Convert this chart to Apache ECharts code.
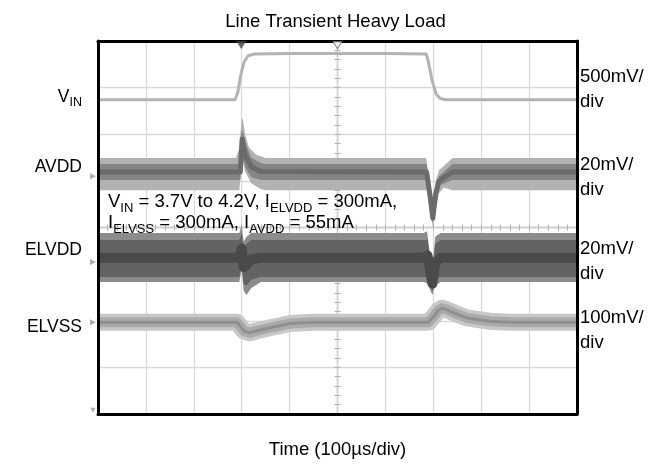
<!DOCTYPE html>
<html><head><meta charset="utf-8">
<script src="https://cdn.jsdelivr.net/npm/echarts@6/dist/echarts.min.js"></script>
<style>html,body{margin:0;padding:0;background:#fff}#c{width:671px;height:464px}</style>
</head><body><div id="c"></div>
<script>
// x: time in µs relative to screen centre (100 µs/div); y: screen divisions relative to centre
const vinTrace = [[-500,2.74],[-214,2.74],[-208,2.9],[-202,3.27],[-195,3.55],[-187,3.68],[-174,3.72],[-100,3.73],[0,3.73],[100,3.73],[185,3.72],[189,3.59],[197,3.17],[206,2.86],[214,2.77],[226,2.74],[300,2.74],[500,2.74]];

const avddOuterHi = [[-500,1.49],[-212,1.49],[-205,1.7],[-200,2.35],[-197,2.3],[-193,2.0],[-185,1.72],[-170,1.56],[-150,1.49],[185,1.49],[189,1.2],[193,0.95],[199,0.55],[205,1.0],[212,1.23],[240,1.49],[500,1.49]];
const avddOuterLo = [[-500,0.8],[-205,0.8],[-199,1.5],[-193,1.2],[-180,0.95],[-160,0.82],[-150,0.8],[186,0.8],[193,0.44],[199,-0.01],[205,0.44],[212,0.74],[222,0.85],[240,0.8],[500,0.8]];
const avddCoreHi = [[-500,1.36],[-204,1.36],[-200,2.1],[-196,2.0],[-192,1.8],[-180,1.5],[-160,1.38],[-150,1.36],[186,1.36],[193,0.85],[199,0.3],[205,0.85],[212,1.1],[240,1.36],[500,1.36]];
const avddCoreLo = [[-500,1.02],[-203,1.02],[-199,1.6],[-193,1.3],[-180,1.08],[-160,1.02],[186,1.02],[193,0.55],[199,0.1],[205,0.6],[212,0.9],[240,1.02],[500,1.02]];
const avddMid = [[-500,1.19],[-203,1.19],[-199,1.9],[-193,1.55],[-180,1.3],[-160,1.2],[186,1.19],[193,0.7],[199,0.2],[205,0.72],[212,1.0],[240,1.19],[500,1.19]];

const elvddOuterHi = [[-500,-0.12],[-205,-0.12],[-200,0.05],[-196,-0.3],[-190,-0.2],[-180,-0.12],[180,-0.12],[187,-0.08],[192,-0.5],[198,-0.9],[204,-0.2],[215,-0.12],[500,-0.12]];
const elvddOuterLo = [[-500,-1.17],[-205,-1.17],[-200,-0.9],[-196,-1.35],[-190,-1.45],[-180,-1.3],[-160,-1.17],[180,-1.17],[188,-1.2],[198,-1.45],[204,-1.25],[215,-1.17],[500,-1.17]];
const elvddCoreHi = [[-500,-0.27],[-205,-0.27],[-200,-0.12],[-196,-0.45],[-190,-0.35],[-180,-0.27],[185,-0.27],[188,-0.25],[193,-0.6],[198,-1.0],[204,-0.35],[215,-0.27],[500,-0.27]];
const elvddCoreLo = [[-500,-1.06],[-205,-1.06],[-200,-0.8],[-196,-1.2],[-190,-1.25],[-180,-1.12],[-160,-1.06],[185,-1.06],[190,-1.0],[198,-1.35],[204,-1.12],[215,-1.06],[500,-1.06]];
const elvddMid = [[-500,-0.65],[-205,-0.65],[-200,-0.45],[-196,-0.85],[-190,-0.8],[-180,-0.68],[-160,-0.65],[185,-0.65],[188,-0.6],[198,-1.2],[204,-0.75],[215,-0.65],[500,-0.65]];

const elvssTrace = [[-500,-2.03],[-210,-2.03],[-203,-2.12],[-195,-2.22],[-183,-2.26],[-170,-2.22],[-141,-2.15],[-99,-2.06],[-50,-2.03],[190,-2.03],[200,-1.92],[210,-1.78],[218,-1.73],[230,-1.77],[245,-1.84],[270,-1.94],[318,-2.01],[360,-2.03],[500,-2.03]];

const triggerMarks = [[-201, 4]];
const centerMarks = [[0, 4]];
const groundMarks = [[-500, 1.1], [-500, -0.74], [-500, -2.03]];
const bottomMark = [[-500, -3.92]];

const leftLabels = [
  {text: '{m|V}{s|IN}', y: 96},
  {text: '{m|AVDD}', y: 166},
  {text: '{m|ELVDD}', y: 249},
  {text: '{m|ELVSS}', y: 326}
];
const rightLabels = [
  {text: '500mV/\ndiv', y: 89},
  {text: '20mV/\ndiv', y: 177},
  {text: '20mV/\ndiv', y: 261},
  {text: '100mV/\ndiv', y: 330}
];
const noteLine1 = '{m|V}{s|IN}{m| = 3.7V to 4.2V, I}{s|ELVDD}{m| = 300mA,}';
const noteLine2 = '{m|I}{s|ELVSS}{m| = 300mA, I}{s|AVDD}{m| = 55mA}';

const FONT = '"Liberation Sans", Arial, Helvetica, sans-serif';
const rich = {
  m: {fontSize: 17.5, fontFamily: FONT, color: '#000', lineHeight: 21, verticalAlign: 'bottom'},
  s: {fontSize: 12.5, fontFamily: FONT, color: '#000', lineHeight: 14, verticalAlign: 'bottom', padding: [0,0,-3,0]}
};
const richNote = {
  m: {fontSize: 18.5, fontFamily: FONT, color: '#000', lineHeight: 21, verticalAlign: 'bottom'},
  s: {fontSize: 13, fontFamily: FONT, color: '#000', lineHeight: 14, verticalAlign: 'bottom', padding: [0,0,-3,0]}
};

function band(hi, lo, color, z) {
  return {
    type: 'custom', z: z, clip: true, silent: true, animation: false, data: [[0, 0]],
    renderItem: function (params, api) {
      const pts = hi.map(p => api.coord(p)).concat(lo.slice().reverse().map(p => api.coord(p)));
      return {type: 'polygon', shape: {points: pts}, style: {fill: color}};
    }
  };
}
function trace(data, color, width, z) {
  return {type: 'line', data: data, symbol: 'none', z: z, silent: true, animation: false, clip: true,
    lineStyle: {color: color, width: width, cap: 'butt', join: 'round'}};
}

const gridLine = {show: true, lineStyle: {color: '#dadada', width: 1.3}};
const frameLine = {show: true, onZero: false, lineStyle: {color: '#000', width: 3}};
const centerLine = {show: true, onZero: true, lineStyle: {color: '#d2d2d2', width: 1.3}};
const centerTick = {show: true, length: 3, lineStyle: {color: '#b0b0b0', width: 1}};
const centerMinor = {show: true, splitNumber: 5, length: 3, lineStyle: {color: '#b0b0b0', width: 1}};

function xAx(pos, frame) {
  const a = {type: 'value', min: -500, max: 500, interval: 100, position: pos,
    axisLabel: {show: false}, splitLine: {show: false}};
  if (frame) {
    Object.assign(a, {z: 10, axisLine: frameLine, axisTick: {show: false}});
  } else {
    Object.assign(a, {z: 1, axisLine: centerLine, axisTick: centerTick, minorTick: centerMinor});
  }
  return a;
}
function yAx(pos, frame) {
  const a = {type: 'value', min: -4, max: 4, interval: 1, position: pos,
    axisLabel: {show: false}, splitLine: {show: false}};
  if (frame) {
    Object.assign(a, {z: 10, axisLine: frameLine, axisTick: {show: false}});
  } else {
    Object.assign(a, {z: 1, axisLine: centerLine, axisTick: centerTick, minorTick: centerMinor});
  }
  return a;
}

const xAxes = [xAx('bottom', true), xAx('top', true), xAx('bottom', false), xAx('top', false)];
xAxes[0].name = 'Time (100µs/div)';
xAxes[0].nameLocation = 'middle';
xAxes[0].nameGap = 26;
xAxes[0].nameTextStyle = {fontSize: 18.5, fontFamily: FONT, color: '#000'};
xAxes[2].splitLine = gridLine;
const yAxes = [yAx('left', true), yAx('right', true), yAx('left', false), yAx('right', false)];
yAxes[2].splitLine = gridLine;

const graphics = [];
leftLabels.forEach(l => graphics.push({type: 'text', x: 82, y: l.y, silent: true,
  style: {text: l.text, rich: rich, align: 'right', verticalAlign: 'middle'}}));
rightLabels.forEach(l => graphics.push({type: 'text', x: 580, y: l.y, silent: true,
  style: {text: l.text, font: '18.5px ' + FONT, fill: '#000', lineHeight: 25, align: 'left', verticalAlign: 'middle'}}));
graphics.push({type: 'text', x: 108, y: 201, z: 20, silent: true, style: {text: noteLine1, rich: richNote, align: 'left', verticalAlign: 'middle'}});
graphics.push({type: 'text', x: 108, y: 222, z: 20, silent: true, style: {text: noteLine2, rich: richNote, align: 'left', verticalAlign: 'middle'}});

const option = {
  backgroundColor: '#fff',
  animation: false,
  title: {text: 'Line Transient Heavy Load', left: 'center', top: 7,
    textStyle: {fontSize: 18.5, fontWeight: 'normal', fontFamily: FONT, color: '#000'}},
  grid: {left: 98, right: 94, top: 41, bottom: 50, containLabel: false},
  xAxis: xAxes,
  yAxis: yAxes,
  graphic: graphics,
  series: [
    trace(vinTrace, '#b3b3b3', 3, 3),
    band(avddOuterHi, avddOuterLo, '#b2b2b2', 3),
    band(avddCoreHi, avddCoreLo, '#858585', 4),
    trace(avddMid, '#6b6b6b', 5, 5),
    band(elvddOuterHi, elvddOuterLo, '#8c8c8c', 3),
    band(elvddCoreHi, elvddCoreLo, '#636363', 4),
    trace(elvddMid, '#4a4a4a', 10, 5),
    trace(elvssTrace, '#c8c8c8', 17, 3),
    trace(elvssTrace, '#aaaaaa', 10, 4),
    trace(elvssTrace, '#8f8f8f', 3, 5),
    {type: 'scatter', data: triggerMarks, symbol: 'triangle', symbolRotate: 180, symbolSize: [10, 8], symbolOffset: [0, 4],
      itemStyle: {color: '#444'}, z: 12, clip: false, silent: true},
    {type: 'scatter', data: centerMarks, symbol: 'triangle', symbolRotate: 180, symbolSize: [9, 7], symbolOffset: [0, 4],
      itemStyle: {color: '#fff', borderColor: '#666', borderWidth: 1}, z: 12, clip: false, silent: true},
    {type: 'scatter', data: groundMarks, symbol: 'triangle', symbolRotate: -90, symbolSize: [6, 6], symbolOffset: [-5, 0],
      itemStyle: {color: '#999'}, z: 12, clip: false, silent: true},
    {type: 'scatter', data: bottomMark, symbol: 'triangle', symbolRotate: 180, symbolSize: [5, 5], symbolOffset: [-5, 0],
      itemStyle: {color: '#999'}, z: 12, clip: false, silent: true}
  ]
};
const chart = echarts.init(document.getElementById('c'));
chart.setOption(option);
</script>
</body></html>
